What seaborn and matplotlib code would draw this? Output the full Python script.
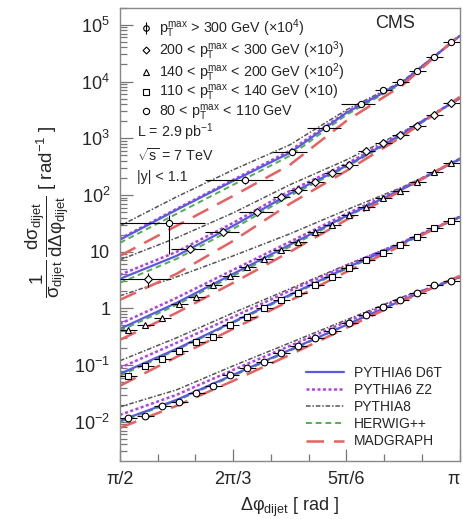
import numpy as np
import pandas as pd
import seaborn as sns
import matplotlib.pyplot as plt
from matplotlib.lines import Line2D
from matplotlib.ticker import LogLocator, NullFormatter

sns.set_style('ticks')
plt.rcParams['font.family'] = ['Liberation Sans', 'DejaVu Sans']
plt.rcParams['mathtext.fontset'] = 'custom'
plt.rcParams['mathtext.rm'] = 'Liberation Sans'
plt.rcParams['mathtext.it'] = 'Liberation Sans'
plt.rcParams['mathtext.bf'] = 'Liberation Sans:bold'

PI = np.pi

# 20 bins of pi/40 between pi/2 and pi
bin_centres = [1.6101, 1.6886, 1.7671, 1.8457, 1.9242, 2.0028, 2.0813, 2.1598,
               2.2384, 2.3169, 2.3955, 2.4740, 2.5525, 2.6311, 2.7096, 2.7882,
               2.8667, 2.9452, 3.0238, 3.1023]
half_bin = PI / 80

# data, pT > 300 GeV (x 10^4), merged bins at low dphi
s1_x = [1.798, 2.150, 2.368, 2.525, 2.683, 2.7882, 2.8667, 2.9452, 3.0238, 3.1023]
s1_lo = [1.5708, 1.9635, 2.2777, 2.4347, 2.5918, 2.7489, 2.8274, 2.9060, 2.9845, 3.0631]
s1_hi = [1.9635, 2.2777, 2.4347, 2.5918, 2.7489, 2.8274, 2.9060, 2.9845, 3.0631, 3.1416]
s1_y = [32.2, 184.5, 575, 1525, 4045, 7140, 9880, 15450, 27300, 50100]
s1_dn = [23, 30, 25, 50, 120, 200, 250, 400, 700, 1200]
s1_up = [12, 30, 25, 50, 120, 200, 250, 400, 700, 1200]

# data, 200-300 GeV (x 10^3)
s2_x = [1.7005, 1.8952, 2.0481, 2.2056, 2.3169, 2.3955, 2.4740, 2.5525, 2.6311,
        2.7096, 2.7882, 2.8667, 2.9452, 3.0238, 3.1023]
s2_lo = [1.5708, 1.8064, 1.9635, 2.1206, 2.2777, 2.3562, 2.4347, 2.5133, 2.5918,
         2.6704, 2.7489, 2.8274, 2.9060, 2.9845, 3.0631]
s2_hi = [1.8064, 1.9635, 2.1206, 2.2777, 2.3562, 2.4347, 2.5133, 2.5918, 2.6704,
         2.7489, 2.8274, 2.9060, 2.9845, 3.0631, 3.1416]
s2_y = [3.31, 11.2, 22.3, 50.3, 92.5, 123, 170, 245, 340, 600, 830, 1148, 1655, 2590, 4210]
s2_err = [0.9, 1.0, 1.2, 2.0, 3.0, 4.0, 5.0, 7.0, 9.0, 15, 20, 28, 40, 60, 90]

# data, 140-200 GeV (x 10^2)
s3_y = [0.418, 0.512, 0.679, 1.20, 1.60, 2.60, 3.74, 5.40, 7.46, 10.8,
        14.9, 22.3, 29.7, 44.6, 61.7, 88.9, 118, 170, 255, 368]
# data, 110-140 GeV (x 10)
s4_y = [0.0645, 0.0968, 0.1286, 0.178, 0.256, 0.314, 0.512, 0.708, 1.02, 1.41,
        1.88, 2.60, 3.59, 5.18, 7.16, 9.53, 13.2, 18.2, 26.3, 34.9]
# data, 80-110 GeV
s5_y = [0.01172, 0.0127, 0.01906, 0.02244, 0.0324, 0.0430, 0.0671, 0.0893, 0.1138, 0.164,
        0.218, 0.302, 0.401, 0.555, 0.767, 1.06, 1.41, 1.88, 2.60, 3.05]

# MC predictions at pi/2, 7pi/12, 2pi/3, 3pi/4, 5pi/6, 11pi/12, pi
mc_x = [PI / 2, 7 * PI / 12, 2 * PI / 3, 3 * PI / 4, 5 * PI / 6, 11 * PI / 12, PI]

d6t_s1 = [16.2, 54.6, 177, 552, 2810, 9880, 64000]
z2_s1 = [16.8, 56.9, 185, 600, 2920, 9880, 64000]
p8_s1 = [28.5, 92.5, 277, 765, 3170, 10300, 64000]
hw_s1 = [14.3, 46.4, 151, 489, 2590, 9490, 64000]
mg_s1 = [8.43, 28.5, 96.4, 339, 2030, 8750, 66600]

d6t_s2 = [3.31, 8.43, 28.5, 105, 326, 1200, 5150]
z2_s2 = [3.90, 9.92, 32.2, 118, 354, 1245, 5150]
p8_s2 = [7.17, 17.5, 48.3, 151, 416, 1300, 4950]
hw_s2 = [2.82, 7.46, 25.2, 96.4, 313, 1148, 5150]
mg_s2 = [1.41, 4.06, 15.5, 69.7, 266, 1100, 5370]

d6t_s3 = [0.435, 1.25, 4.06, 13.2, 42.8, 128, 433]
z2_s3 = [0.533, 1.53, 4.77, 14.9, 46.4, 133, 433]
p8_s3 = [1.66, 3.59, 8.43, 20.6, 54.6, 139, 416]
hw_s3 = [0.401, 1.15, 3.74, 12.2, 41.1, 128, 433]
mg_s3 = [0.278, 0.833, 2.82, 9.92, 36.4, 123, 451]

d6t_s4 = [0.0700, 0.193, 0.578, 1.73, 5.18, 14.3, 41.1]
z2_s4 = [0.0892, 0.246, 0.708, 2.04, 5.61, 14.9, 41.1]
p8_s4 = [0.119, 0.302, 0.833, 2.21, 5.85, 14.9, 39.5]
hw_s4 = [0.0645, 0.185, 0.555, 1.66, 4.97, 13.7, 41.1]
mg_s4 = [0.0430, 0.139, 0.435, 1.36, 4.40, 13.2, 42.8]

d6t_s5 = [0.0104, 0.0243, 0.0672, 0.185, 0.512, 1.41, 3.59]
z2_s5 = [0.0132, 0.0298, 0.0822, 0.218, 0.578, 1.53, 3.59]
p8_s5 = [0.0183, 0.0365, 0.0968, 0.246, 0.627, 1.60, 3.45]
hw_s5 = [0.00996, 0.0234, 0.0645, 0.178, 0.512, 1.41, 3.59]
mg_s5 = [0.0078, 0.0191, 0.0526, 0.151, 0.453, 1.36, 3.74]

gen_curves = {
    'PYTHIA6 D6T': [d6t_s1, d6t_s2, d6t_s3, d6t_s4, d6t_s5],
    'PYTHIA6 Z2': [z2_s1, z2_s2, z2_s3, z2_s4, z2_s5],
    'PYTHIA8': [p8_s1, p8_s2, p8_s3, p8_s4, p8_s5],
    'HERWIG++': [hw_s1, hw_s2, hw_s3, hw_s4, hw_s5],
    'MADGRAPH': [mg_s1, mg_s2, mg_s3, mg_s4, mg_s5],
}
gen_style = {
    'PYTHIA6 D6T': dict(color='#5a5ae0', lw=1.6, ls='-'),
    'PYTHIA6 Z2': dict(color='#b040e8', lw=1.8, ls=(0, (1.2, 1.0))),
    'PYTHIA8': dict(color='#555555', lw=1.1, ls=(0, (3, 1.2, 1, 1.2))),
    'HERWIG++': dict(color='#50b050', lw=1.4, ls=(0, (3, 2))),
    'MADGRAPH': dict(color='#e86060', lw=1.8, ls=(0, (7, 4))),
}

rows = []
for g, curves in gen_curves.items():
    for i, c in enumerate(curves):
        for xv, yv in zip(mc_x, c):
            rows.append((g, i, xv, yv))
mc = pd.DataFrame(rows, columns=['gen', 'series', 'dphi', 'xs'])

fig = plt.figure(figsize=(4.63, 5.19), dpi=100)
ax = fig.add_axes([0.259, 0.112, 0.734, 0.873])
ax.set_yscale('log')

for g in ['PYTHIA8', 'PYTHIA6 Z2', 'HERWIG++', 'PYTHIA6 D6T', 'MADGRAPH']:
    st = gen_style[g]
    sns.lineplot(data=mc[mc.gen == g], x='dphi', y='xs', units='series',
                 estimator=None, sort=False, color=st['color'], lw=st['lw'],
                 linestyle=st['ls'], ax=ax, legend=False, zorder=2)

ebkw = dict(ls='none', color='black', mfc='white', mec='black', mew=0.8,
            elinewidth=0.8, capsize=0, zorder=4)

s1_xerr = [np.array(s1_x) - np.array(s1_lo), np.array(s1_hi) - np.array(s1_x)]
ax.errorbar(s1_x, s1_y, xerr=s1_xerr, yerr=[s1_dn, s1_up], marker='o', ms=4.5, **ebkw)
s2_xerr = [np.array(s2_x) - np.array(s2_lo), np.array(s2_hi) - np.array(s2_x)]
ax.errorbar(s2_x, s2_y, xerr=s2_xerr, yerr=s2_err, marker='D', ms=3.8, **ebkw)
ax.errorbar(bin_centres, s3_y, xerr=half_bin, marker='^', ms=4.8, **ebkw)
ax.errorbar(bin_centres, s4_y, xerr=half_bin, marker='s', ms=4.2, **ebkw)
ax.errorbar(bin_centres, s5_y, xerr=half_bin, marker='o', ms=4.8, **ebkw)

ax.set_xlim(PI / 2, PI)
ax.set_ylim(2.04e-3, 2.0e5)

ax.set_xticks([PI / 2, 2 * PI / 3, 5 * PI / 6, PI], labels=['π/2', '2π/3', '5π/6', 'π'])
ax.get_xticklabels()[-1].set_horizontalalignment('right')
ax.set_xticks([PI / 2 + k * PI / 18 for k in range(10)], minor=True)
ax.set_yticks([1e-2, 1e-1, 1, 10, 1e2, 1e3, 1e4, 1e5],
              labels=['$10^{-2}$', '$10^{-1}$', '1', '10', '$10^{2}$', '$10^{3}$',
                      '$10^{4}$', '$10^{5}$'])
ax.yaxis.set_minor_locator(LogLocator(base=10, subs=np.arange(2, 10), numticks=20))
ax.yaxis.set_minor_formatter(NullFormatter())
ax.tick_params(which='both', direction='in', top=False, right=False,
               color='#777777', labelsize=13, width=0.9)
ax.tick_params(which='major', length=9, pad=7)
ax.tick_params(which='minor', length=5)
for sp in ax.spines.values():
    sp.set_color('#888888')
    sp.set_linewidth(1.0)

ax.set_xlabel(r'$\Delta\varphi_{\rm dijet}$ [ rad ]', fontsize=13, labelpad=6)
ax.set_ylabel(r'$\dfrac{1}{\sigma_{\rm dijet}}\,\dfrac{d\sigma_{\rm dijet}}{d\Delta\varphi_{\rm dijet}}$ [ rad$^{-1}$ ]',
              fontsize=13.5)
ax.yaxis.set_label_coords(-0.145, 0.55)

# data legend
data_labels = [r'$p_{\rm T}^{\rm max}$ > 300 GeV ($\times10^{4}$)',
               r'200 < $p_{\rm T}^{\rm max}$ < 300 GeV ($\times10^{3}$)',
               r'140 < $p_{\rm T}^{\rm max}$ < 200 GeV ($\times10^{2}$)',
               r'110 < $p_{\rm T}^{\rm max}$ < 140 GeV ($\times$10)',
               r'80 < $p_{\rm T}^{\rm max}$ < 110 GeV']
mk = dict(ls='none', color='black', mfc='white', mew=0.8)
data_handles = [(Line2D([], [], marker='o', ms=4, **mk), Line2D([], [], marker='|', ms=9, **mk)),
                Line2D([], [], marker='D', ms=3.5, **mk),
                Line2D([], [], marker='^', ms=4.5, **mk),
                Line2D([], [], marker='s', ms=4, **mk),
                Line2D([], [], marker='o', ms=4.5, **mk)]
leg1 = ax.legend(data_handles, data_labels, loc='upper left', bbox_to_anchor=(0.025, 1.0),
                 frameon=False, fontsize=10.3, handlelength=1.0, handletextpad=0.45,
                 labelspacing=-0.05, borderaxespad=0.3)
ax.add_artist(leg1)

mc_handles = [Line2D([], [], color=gen_style[g]['color'], lw=gen_style[g]['lw'],
                     ls=gen_style[g]['ls']) for g in gen_curves]
ax.legend(mc_handles, list(gen_curves), loc='lower right', bbox_to_anchor=(0.985, 0.0),
          frameon=False, fontsize=10, handlelength=2.75, handletextpad=0.7,
          labelspacing=0.22)

ax.text(0.05, 0.726, r'L = 2.9 pb$^{-1}$', transform=ax.transAxes, fontsize=10.3, va='center')
ax.text(0.05, 0.675, r'$\sqrt{\rm s}$ = 7 TeV', transform=ax.transAxes, fontsize=10.3, va='center')
ax.text(0.05, 0.627, '|y| < 1.1', transform=ax.transAxes, fontsize=10.3, va='center')
ax.text(0.81, 0.965, 'CMS', transform=ax.transAxes, fontsize=13, ha='center', va='center')

fig.savefig('out.png', dpi=100)
